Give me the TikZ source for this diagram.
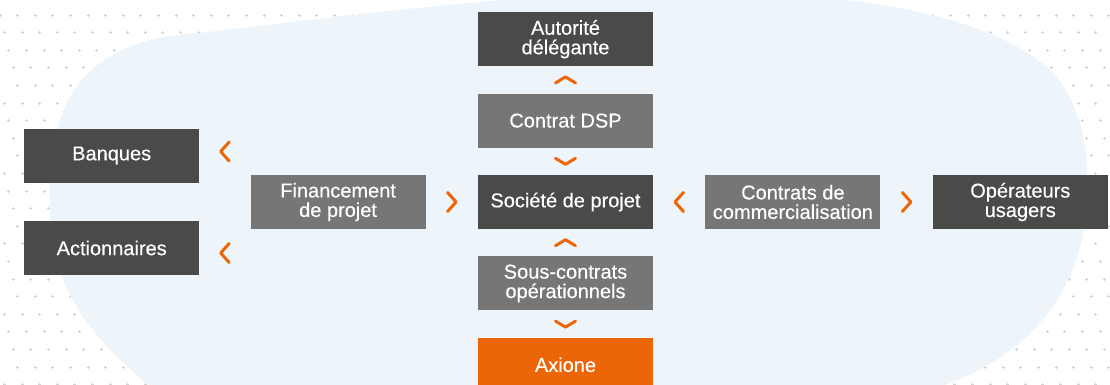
\documentclass[tikz,border=0pt]{standalone}
\usepackage{fontspec}
\setmainfont{Liberation Sans}
\newfontfamily\boxfont{Liberation Sans}[FakeBold=0.35]
\usepackage{tikz}
\usetikzlibrary{calc,positioning}
\definecolor{mydark}{RGB}{74,74,73}
\definecolor{mygrey}{RGB}{118,118,118}
\definecolor{myorange}{RGB}{236,102,8}
\definecolor{myblue}{RGB}{237,245,251}
\definecolor{mydot}{RGB}{212,212,212}
\tikzstyle{box}=[text=white,minimum width=175pt,minimum height=54pt,inner sep=0pt,align=center,font=\boxfont\fontsize{20}{19.5}\selectfont]
\tikzstyle{darkbox}=[box,fill=mydark]
\tikzstyle{greybox}=[box,fill=mygrey]
\tikzstyle{orangebox}=[box,fill=myorange]
\tikzstyle{chevron}=[draw=myorange,line width=3pt,line cap=round,line join=round]
\tikzstyle{dotmark}=[draw=mydot,line width=0.7pt]

\begin{document}
\begin{tikzpicture}[x=1pt,y=-1pt]
\path [use as bounding box,clip] (0,0) rectangle (1110,384);
\fill [white] (0,0) rectangle (1110,384);
\foreach \r in {0,...,21} {
  \pgfmathsetmacro\yy{15+17.6*\r}
  \pgfmathsetmacro\xo{mod(4.4*\r,17.6)}
  \foreach \k in {0,...,63} {
    \draw [dotmark] (\xo+17.6*\k-1.5,\yy) -- ++(3,0) ++(-1.5,-1.5) -- ++(0,3);
  }
}
\fill [myblue] (147,384) .. controls (90,335) and (52,290) .. (50,210)
  .. controls (48,130) and (60,40) .. (200,33)
  .. controls (350,15) and (550,-10) .. (700,-10)
  .. controls (900,-5) and (1000,25) .. (1050,70)
  .. controls (1080,100) and (1090,150) .. (1087,200)
  .. controls (1084,280) and (1040,350) .. (947,384)
  -- (900,420) -- (200,420) -- cycle;

\node [darkbox] (soc) at (565.5,202) {Société de projet};
\node [greybox, above=27pt of soc] (dsp) {Contrat DSP};
\node [darkbox, above=27pt of dsp] (autorite) {Autorité\\délégante};
\node [greybox, below=27pt of soc] (sous) {Sous-contrats\\opérationnels};
\node [orangebox, below=27pt of sous] (axione) {Axione};
\node [greybox, left=52pt of soc] (fin) {Financement\\de projet};
\node [darkbox, left=51pt of fin, yshift=46.5pt] (banques) {Banques};
\node [darkbox, left=51pt of fin, yshift=-46pt] (action) {Actionnaires};
\node [greybox, right=52pt of soc] (comm) {Contrats de\\commercialisation};
\node [darkbox, right=52pt of comm] (oper) {Opérateurs\\usagers};

\draw [chevron] ($(autorite.south)!0.5!(dsp.north)$) ++(-10,3) -- ++(10,-6) -- ++(10,6);
\draw [chevron] ($(dsp.south)!0.5!(soc.north)$) ++(-10,-3) -- ++(10,6) -- ++(10,-6);
\draw [chevron] ($(soc.south)!0.5!(sous.north)$) ++(-10,3) -- ++(10,-6) -- ++(10,6);
\draw [chevron] ($(sous.south)!0.5!(axione.north)$) ++(-10,-3) -- ++(10,6) -- ++(10,-6);
\draw [chevron] ($(banques.east)!0.5!(fin.west |- banques)$) ++(4.25,-13.5) -- ++(-8.5,9.5) -- ++(8.5,9.5);
\draw [chevron] ($(action.east)!0.5!(fin.west |- action)$) ++(4.25,-4.5) -- ++(-8.5,9.5) -- ++(8.5,9.5);
\draw [chevron] ($(fin.east)!0.5!(soc.west)$) ++(-4.25,-9.5) -- ++(8.5,9.5) -- ++(-8.5,9.5);
\draw [chevron] ($(soc.east)!0.5!(comm.west)$) ++(4.25,-9.5) -- ++(-8.5,9.5) -- ++(8.5,9.5);
\draw [chevron] ($(comm.east)!0.5!(oper.west)$) ++(-4.25,-9.5) -- ++(8.5,9.5) -- ++(-8.5,9.5);
\end{tikzpicture}
\end{document}
